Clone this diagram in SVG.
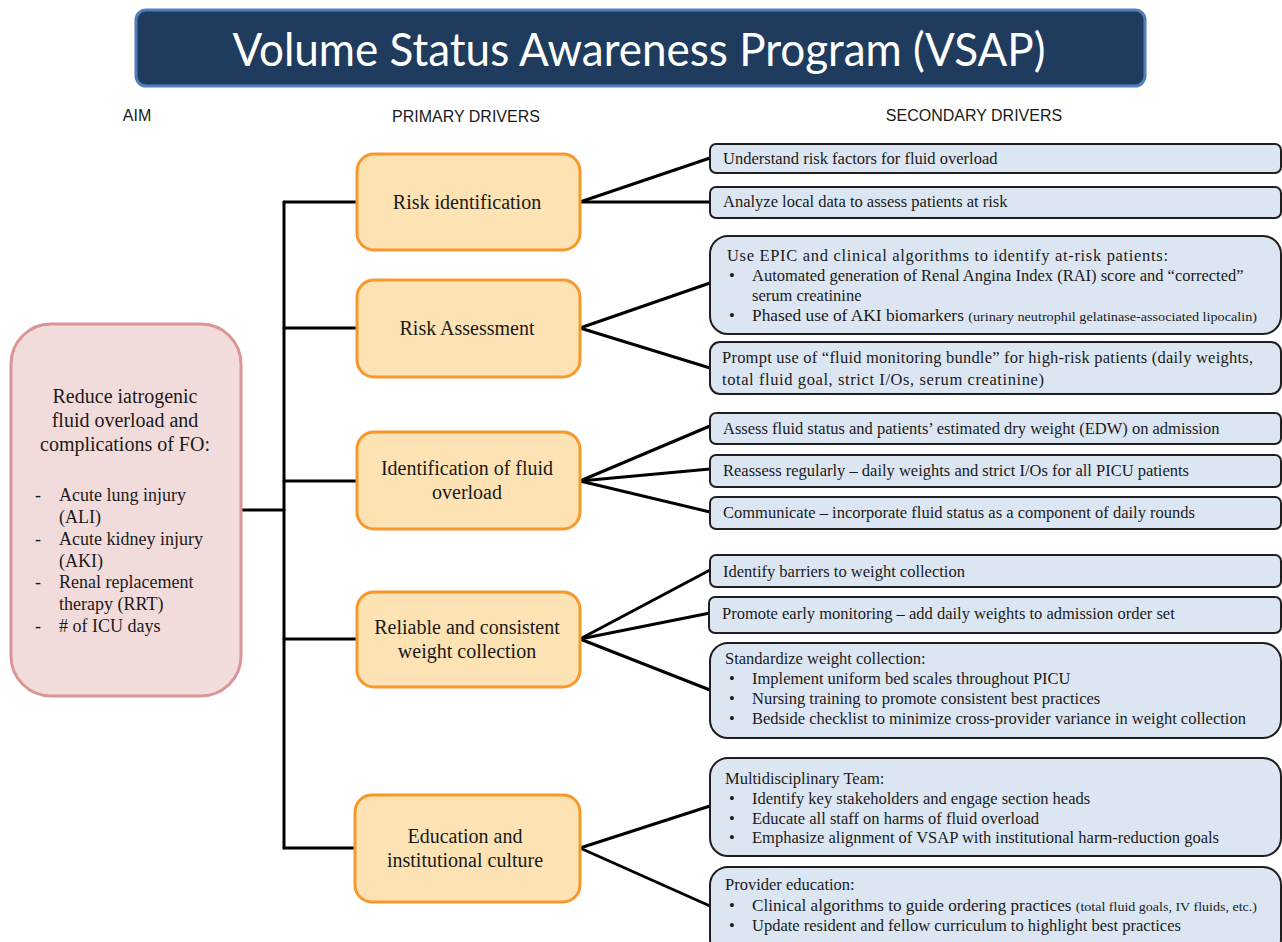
<svg xmlns="http://www.w3.org/2000/svg" width="1282" height="942" viewBox="0 0 1282 942">
  <style>
    .hdr { font-family: "Liberation Sans", Arial, sans-serif; font-size: 16px; fill: #1a1a1a; text-anchor: middle; }
    .title { font-family: Lato, "Open Sans", "Liberation Sans", sans-serif; font-size: 46px; fill: #ffffff; text-anchor: middle; }
    .aimbox { fill: #f2dcdb; stroke: #d99694; stroke-width: 3; }
    .pribox { fill: #fde2b3; stroke: #f7982b; stroke-width: 3; }
    .secbox { fill: #dce6f2; stroke: #1f1f1f; stroke-width: 2; }
    .serif { font-family: "Liberation Serif", "Times New Roman", serif; fill: #1a1a1a; }
    .aim { font-size: 20px; text-anchor: middle; }
    .aimlist { font-size: 18px; }
    .pri { font-size: 20px; text-anchor: middle; }
    .sec { font-size: 16.5px; }
    .small { font-size: 13.5px; }
    .conn { stroke: #000000; stroke-width: 3; fill: none; stroke-linecap: round; }
  </style>

  <!-- Title banner -->
  <g id="title">
    <rect x="136" y="10" width="1009" height="76" rx="10" fill="#1f3c5e" stroke="#4f7fb8" stroke-width="3"/>
    <text class="title" x="639" y="66" textLength="813" lengthAdjust="spacingAndGlyphs">Volume Status Awareness Program (VSAP)</text>
  </g>

  <!-- Column headings -->
  <g id="headings">
    <text class="hdr" x="137" y="121">AIM</text>
    <text class="hdr" x="466" y="122">PRIMARY DRIVERS</text>
    <text class="hdr" x="974" y="121">SECONDARY DRIVERS</text>
  </g>

  <!-- Connectors -->
  <g id="connectors" class="conn">
    <line x1="242" y1="510" x2="284" y2="510"/>
    <line x1="284" y1="202" x2="284" y2="848"/>
    <line x1="284" y1="202" x2="357" y2="202"/>
    <line x1="284" y1="328" x2="357" y2="328"/>
    <line x1="284" y1="481" x2="357" y2="481"/>
    <line x1="284" y1="639" x2="357" y2="639"/>
    <line x1="284" y1="848" x2="357" y2="848"/>
    <!-- fan-outs to secondary drivers -->
    <line x1="580" y1="202" x2="710" y2="158"/>
    <line x1="580" y1="202" x2="710" y2="202"/>
    <line x1="580" y1="328" x2="710" y2="283"/>
    <line x1="580" y1="328" x2="710" y2="368"/>
    <line x1="580" y1="481" x2="710" y2="426"/>
    <line x1="580" y1="481" x2="710" y2="469"/>
    <line x1="580" y1="481" x2="710" y2="512"/>
    <line x1="580" y1="639" x2="710" y2="570"/>
    <line x1="580" y1="639" x2="710" y2="613"/>
    <line x1="580" y1="639" x2="710" y2="690"/>
    <line x1="580" y1="848" x2="710" y2="806"/>
    <line x1="580" y1="848" x2="710" y2="906"/>
  </g>

  <!-- Aim -->
  <g id="aim">
    <rect class="aimbox" x="11" y="324" width="230" height="372" rx="40"/>
    <text class="serif aim" x="125" y="403">Reduce iatrogenic</text>
    <text class="serif aim" x="125" y="427">fluid overload and</text>
    <text class="serif aim" x="125" y="451">complications of FO:</text>
    <g class="serif aimlist">
      <text x="35" y="501">-</text><text x="59" y="501">Acute lung injury</text>
      <text x="59" y="523">(ALI)</text>
      <text x="35" y="545">-</text><text x="59" y="545">Acute kidney injury</text>
      <text x="59" y="567">(AKI)</text>
      <text x="35" y="588">-</text><text x="59" y="588">Renal replacement</text>
      <text x="59" y="610">therapy (RRT)</text>
      <text x="35" y="632">-</text><text x="59" y="632">#&#160;of ICU days</text>
    </g>
  </g>

  <!-- Primary drivers -->
  <g id="primary-risk-identification">
    <rect class="pribox" x="357" y="154" width="223" height="96" rx="17"/>
    <text class="serif pri" x="467" y="209">Risk identification</text>
  </g>
  <g id="primary-risk-assessment">
    <rect class="pribox" x="357" y="280" width="223" height="97" rx="17"/>
    <text class="serif pri" x="467" y="335">Risk Assessment</text>
  </g>
  <g id="primary-fluid-overload">
    <rect class="pribox" x="357" y="432" width="223" height="97" rx="17"/>
    <text class="serif pri" x="467" y="475">Identification of fluid</text>
    <text class="serif pri" x="467" y="499">overload</text>
  </g>
  <g id="primary-weight-collection">
    <rect class="pribox" x="357" y="592" width="223" height="95" rx="17"/>
    <text class="serif pri" x="467" y="634">Reliable and consistent</text>
    <text class="serif pri" x="467" y="658">weight collection</text>
  </g>
  <g id="primary-education">
    <rect class="pribox" x="355" y="795" width="225" height="107" rx="17"/>
    <text class="serif pri" x="465" y="843">Education and</text>
    <text class="serif pri" x="465" y="867">institutional culture</text>
  </g>

  <!-- Secondary drivers -->
  <g id="sec-risk-factors">
    <rect class="secbox" x="710" y="144" width="571" height="29" rx="6"/>
    <text class="serif sec" x="723" y="164">Understand risk factors for fluid overload</text>
  </g>
  <g id="sec-local-data">
    <rect class="secbox" x="710" y="187" width="571" height="31" rx="6"/>
    <text class="serif sec" x="723" y="207">Analyze local data to assess patients at risk</text>
  </g>
  <g id="sec-epic-algorithms">
    <rect class="secbox" x="710" y="236" width="571" height="98" rx="18"/>
    <text class="serif sec" x="727" y="261" textLength="441" lengthAdjust="spacing">Use EPIC and clinical algorithms to identify at-risk patients:</text>
    <text class="serif sec" x="729" y="281">•</text>
    <text class="serif sec" x="752" y="281">Automated generation of Renal Angina Index (RAI) score and “corrected”</text>
    <text class="serif sec" x="752" y="301">serum creatinine</text>
    <text class="serif sec" x="729" y="321">•</text>
    <text class="serif sec" x="752" y="321" textLength="505" lengthAdjust="spacingAndGlyphs">Phased use of AKI biomarkers <tspan class="small">(urinary neutrophil gelatinase-associated lipocalin)</tspan></text>
  </g>
  <g id="sec-monitoring-bundle">
    <rect class="secbox" x="710" y="342" width="571" height="52" rx="10"/>
    <text class="serif sec" x="722" y="363" textLength="531" lengthAdjust="spacing">Prompt use of “fluid monitoring bundle” for high-risk patients (daily weights,</text>
    <text class="serif sec" x="722" y="385" textLength="322" lengthAdjust="spacing">total fluid goal, strict I/Os, serum creatinine)</text>
  </g>
  <g id="sec-assess-status">
    <rect class="secbox" x="710" y="413" width="571" height="31" rx="6"/>
    <text class="serif sec" x="723" y="434">Assess fluid status and patients’ estimated dry weight (EDW) on admission</text>
  </g>
  <g id="sec-reassess">
    <rect class="secbox" x="710" y="455" width="571" height="32" rx="6"/>
    <text class="serif sec" x="723" y="476">Reassess regularly – daily weights and strict I/Os for all PICU patients</text>
  </g>
  <g id="sec-communicate">
    <rect class="secbox" x="710" y="497" width="571" height="32" rx="6"/>
    <text class="serif sec" x="723" y="518">Communicate – incorporate fluid status as a component of daily rounds</text>
  </g>
  <g id="sec-barriers">
    <rect class="secbox" x="710" y="555" width="571" height="32" rx="6"/>
    <text class="serif sec" x="723" y="577">Identify barriers to weight collection</text>
  </g>
  <g id="sec-early-monitoring">
    <rect class="secbox" x="709" y="597" width="572" height="36" rx="6"/>
    <text class="serif sec" x="722" y="619">Promote early monitoring – add daily weights to admission order set</text>
  </g>
  <g id="sec-standardize">
    <rect class="secbox" x="710" y="643" width="571" height="95" rx="18"/>
    <text class="serif sec" x="725" y="664">Standardize weight collection:</text>
    <text class="serif sec" x="729" y="684">•</text>
    <text class="serif sec" x="752" y="684">Implement uniform bed scales throughout PICU</text>
    <text class="serif sec" x="729" y="704">•</text>
    <text class="serif sec" x="752" y="704">Nursing training to promote consistent best practices</text>
    <text class="serif sec" x="729" y="724">•</text>
    <text class="serif sec" x="752" y="724">Bedside checklist to minimize cross-provider variance in weight collection</text>
  </g>
  <g id="sec-team">
    <rect class="secbox" x="710" y="758" width="571" height="98" rx="18"/>
    <text class="serif sec" x="725" y="784">Multidisciplinary Team:</text>
    <text class="serif sec" x="729" y="804">•</text>
    <text class="serif sec" x="752" y="804">Identify key stakeholders and engage section heads</text>
    <text class="serif sec" x="729" y="824">•</text>
    <text class="serif sec" x="752" y="824">Educate all staff on harms of fluid overload</text>
    <text class="serif sec" x="729" y="843">•</text>
    <text class="serif sec" x="752" y="843">Emphasize alignment of VSAP with institutional harm-reduction goals</text>
  </g>
  <g id="sec-provider-education">
    <rect class="secbox" x="710" y="867" width="571" height="90" rx="18"/>
    <text class="serif sec" x="725" y="890">Provider education:</text>
    <text class="serif sec" x="729" y="911">•</text>
    <text class="serif sec" x="752" y="911" textLength="505" lengthAdjust="spacingAndGlyphs">Clinical algorithms to guide ordering practices <tspan class="small">(total fluid goals, IV fluids, etc.)</tspan></text>
    <text class="serif sec" x="729" y="931">•</text>
    <text class="serif sec" x="752" y="931">Update resident and fellow curriculum to highlight best practices</text>
  </g>
</svg>
